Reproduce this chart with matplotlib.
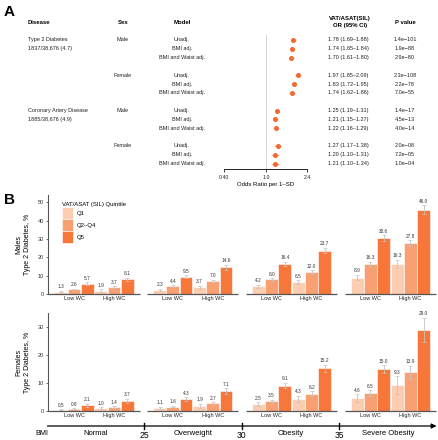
import numpy as np
import matplotlib
matplotlib.use("Agg")
import matplotlib.pyplot as plt
from matplotlib.patches import Patch
from matplotlib.transforms import blended_transform_factory

# ---------------- data panel A ----------------
diseases = ["Type 2 Diabetes", "Coronary Artery Disease"]
disease_counts = ["1837/38,676 (4.7)", "1885/38,676 (4.9)"]
sexes = ["Male", "Female"]
models = ["Unadj.", "BMI adj.", "BMI and Waist adj."]
or_est = [1.78, 1.74, 1.70, 1.97, 1.83, 1.74, 1.25, 1.21, 1.22, 1.27, 1.20, 1.21]
or_lo = [1.69, 1.65, 1.61, 1.85, 1.72, 1.62, 1.19, 1.15, 1.16, 1.17, 1.10, 1.10]
or_hi = [1.88, 1.84, 1.80, 2.09, 1.95, 1.86, 1.31, 1.27, 1.29, 1.38, 1.31, 1.34]
p_values = ["1.4e−101", "1.9e−88", "2.9e−80", "2.3e−108", "2.2e−78", "7.0e−55",
            "1.4e−17", "4.5e−13", "4.0e−14", "2.0e−08", "7.2e−05", "1.0e−04"]

# ---------------- data panel B ----------------
bmi_groups = ["Normal", "Overweight", "Obesity", "Severe Obesity"]
bmi_cuts = [25, 30, 35]
wc_groups = ["Low WC", "High WC"]
quintiles = ["Q1", "Q2–Q4", "Q5"]
# values ordered by bmi group -> wc group -> quintile
male_vals = [[[1.3, 2.6, 5.7], [1.9, 3.7, 8.1]],
             [[2.3, 4.4, 9.5], [3.7, 7.0, 14.6]],
             [[4.2, 8.0, 16.4], [6.5, 12.0, 23.7]],
             [[8.9, 16.3, 30.6], [16.3, 27.8, 46.0]]]
male_err = [[[0.4, 0.4, 0.6], [0.6, 0.5, 0.9]],
            [[0.5, 0.4, 0.8], [0.9, 0.7, 1.3]],
            [[0.8, 0.7, 1.3], [1.1, 1.0, 1.5]],
            [[1.5, 1.2, 1.5], [2.3, 1.6, 2.5]]]
female_vals = [[[0.5, 0.8, 2.1], [1.0, 1.4, 3.7]],
               [[1.1, 1.6, 4.3], [1.9, 2.7, 7.1]],
               [[2.5, 3.5, 9.1], [4.3, 6.2, 15.2]],
               [[4.6, 6.5, 15.0], [9.3, 13.9, 29.0]]]
female_err = [[[0.2, 0.2, 0.5], [0.4, 0.3, 0.7]],
              [[0.4, 0.3, 0.7], [0.7, 0.5, 1.0]],
              [[0.7, 0.6, 1.0], [1.2, 0.8, 1.3]],
              [[1.3, 1.0, 1.3], [3.2, 2.3, 4.3]]]

q_colors = ["#fccdb0", "#f9a073", "#f7763a"]
pt_color = "#f26a30"

W, H = 439, 440
fig = plt.figure(figsize=(W / 100, H / 100), dpi=100)
plt.rcParams['font.family'] = ['Liberation Sans', 'DejaVu Sans']


def fx(px):
    return px / W


def fy(py):
    return 1 - py / H


# ------- panel A : forest plot + table -------
fig.text(fx(4), fy(12), "A", fontsize=11, fontweight="bold", va="center")

ax_f = fig.add_axes([fx(224), fy(169), (307 - 224) / W, (169 - 31) / H])
rows = [g * 4 + k for g in range(4) for k in range(3)]
ax_f.set_xscale("log")
ax_f.set_xlim(0.4, 2.4)
ax_f.set_ylim(14.6, -1.0)
ax_f.axvline(1.0, color="#cfcfcf", lw=0.6, ymin=0, ymax=0.97)
err_lo = np.array(or_est) - np.array(or_lo)
err_hi = np.array(or_hi) - np.array(or_est)
ax_f.errorbar(or_est, rows, xerr=[err_lo, err_hi], fmt="o", ms=2.6,
              color=pt_color, ecolor="#f7b08e", elinewidth=0.8, capsize=0)
for s in ["top", "right", "left"]:
    ax_f.spines[s].set_visible(False)
ax_f.spines["bottom"].set_linewidth(0.6)
ax_f.set_yticks([])
ax_f.set_xticks([0.4, 1.0, 2.4])
ax_f.set_xticklabels(["0.40", "1.0", "2.4"])
ax_f.xaxis.set_minor_locator(matplotlib.ticker.NullLocator())
ax_f.tick_params(axis="x", labelsize=3.8, length=2.5, width=0.6, pad=2, colors="#222222")
ax_f.set_xlabel("Odds Ratio per 1–SD", fontsize=4.3, labelpad=1.5)

tr = blended_transform_factory(fig.transFigure, ax_f.transData)
hdr = dict(fontsize=4.3, fontweight="bold", va="center", transform=tr)
fig.text(fx(28), -2, "Disease", ha="left", **hdr)
fig.text(fx(123), -2, "Sex", ha="center", **hdr)
fig.text(fx(182), -2, "Model", ha="center", **hdr)
fig.text(fx(350), -2, "VAT/ASAT(SIL)\nOR (95% CI)", ha="center", linespacing=1.5, **hdr)
fig.text(fx(405), -2, "P value", ha="center", **hdr)

txt = dict(fontsize=4, va="center", transform=tr, color="#222222")
for d in range(2):
    fig.text(fx(28), d * 8, diseases[d], ha="left", **txt)
    fig.text(fx(28), d * 8 + 1, disease_counts[d], ha="left", **txt)
    for s in range(2):
        fig.text(fx(123), d * 8 + s * 4, sexes[s], ha="center", **txt)
for i, r in enumerate(rows):
    fig.text(fx(182), r, models[i % 3], ha="center", **txt)
    fig.text(fx(328), r, f"{or_est[i]:.2f} ({or_lo[i]:.2f}–{or_hi[i]:.2f})", ha="left", **txt)
    fig.text(fx(405), r, p_values[i], ha="center", **txt)

# ------- panel B : bar charts -------
fig.text(fx(4), fy(200), "B", fontsize=11, fontweight="bold", va="center")

gstep = 2.47
bw = 0.32


def draw_bars(ax, vals, errs, ymax, yticks, ylabel):
    centers = []
    for g in range(4):
        for w in range(2):
            c = g * gstep + w
            centers.append(c)
            for q in range(3):
                x = c + (q - 1) * 0.33
                v = vals[g][w][q]
                e = errs[g][w][q]
                ax.bar(x, v, width=bw, color=q_colors[q], edgecolor="white", linewidth=0.4)
                ax.errorbar(x, v, yerr=e, color="#c4c4c4", lw=0.6, capsize=1.3, capthick=0.5)
                ax.text(x, v + e + ymax * 0.015, f"{v:.1f}", ha="center", va="bottom",
                        fontsize=3.4, color="#333333")
        ax.plot([g * gstep - 0.64, g * gstep + 1.64], [0, 0], color="#555555", lw=0.9,
                solid_capstyle="butt", clip_on=False)
    ax.set_xlim(-0.65, 9.05)
    ax.set_ylim(0, ymax)
    ax.set_xticks(centers)
    ax.set_xticklabels(wc_groups * 4)
    ax.set_yticks(yticks)
    for s in ["top", "right", "bottom"]:
        ax.spines[s].set_visible(False)
    ax.spines["left"].set_color("#555555")
    ax.spines["left"].set_linewidth(0.8)
    ax.tick_params(axis="x", length=0, labelsize=4, pad=1.5, colors="#222222")
    ax.tick_params(axis="y", labelsize=4, length=1.5, width=0.5, pad=1.5, colors="#333333")
    ax.set_ylabel(ylabel, fontsize=5, linespacing=1.2, labelpad=5)


ax_m = fig.add_axes([fx(48), fy(294), 388 / W, (294 - 195) / H])
draw_bars(ax_m, male_vals, male_err, 54, [0, 10, 20, 30, 40, 50], "Males\nType 2 Diabetes, %")
handles = [Patch(facecolor=c, edgecolor="white", linewidth=0.4) for c in q_colors]
leg = ax_m.legend(handles, quintiles, title="VAT/ASAT (SIL) Quintile", loc="upper left",
                  bbox_to_anchor=(0.035, 0.93), frameon=False, fontsize=4.3,
                  title_fontsize=4.3, handlelength=1.85, handleheight=2.7,
                  labelspacing=0.0, handletextpad=0.7, alignment="left",
                  borderaxespad=0, borderpad=0)

ax_w = fig.add_axes([fx(48), fy(411), 388 / W, (411 - 313) / H])
draw_bars(ax_w, female_vals, female_err, 35, [0, 10, 20, 30], "Females\nType 2 Diabetes, %")

# ------- BMI arrow axis -------
ax_b = fig.add_axes([fx(46.5), 0, 390 / W, 20 / H])
ax_b.set_xlim(20, 40)
ax_b.set_ylim(0, 1)
ax_b.axis("off")
ax_b.annotate("", xy=(40, 0.7), xytext=(20.05, 0.7),
              arrowprops=dict(arrowstyle="-|>", lw=0.9, color="black", mutation_scale=7,
                              shrinkA=0, shrinkB=0))
for cut in bmi_cuts:
    ax_b.plot([cut, cut], [0.55, 0.87], color="black", lw=1.0)
    ax_b.text(cut, 0.23, str(cut), ha="center", va="center", fontsize=6.2)
for i, name in enumerate(bmi_groups):
    ax_b.text(20 + 2.5 + 5 * i, 0.35, name, ha="center", va="center", fontsize=5.5)
ax_b.text(19.77, 0.35, "BMI", ha="center", va="center", fontsize=5.2, clip_on=False)

fig.savefig("out.png", dpi=100)
